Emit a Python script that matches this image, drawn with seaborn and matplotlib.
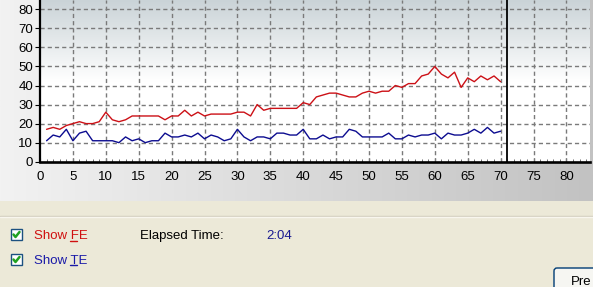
import numpy as np
import pandas as pd
import matplotlib
matplotlib.use("Agg")
import matplotlib.pyplot as plt
import seaborn as sns
from matplotlib.patches import Rectangle, FancyBboxPatch
from matplotlib.lines import Line2D

# ---- data ----
positions = list(range(1, 71))
fe_values = [17, 18, 17, 19, 20, 21, 20, 20, 21, 26,
             22, 21, 22, 24, 24, 24, 24, 24, 22, 24,
             24, 27, 24, 26, 24, 25, 25, 25, 25, 26,
             26, 24, 30, 27, 28, 28, 28, 28, 28, 31,
             30, 34, 35, 36, 36, 35, 34, 34, 36, 37,
             36, 37, 37, 40, 39, 41, 41, 45, 46, 50,
             46, 44, 47, 39, 44, 42, 45, 43, 45, 42]
te_values = [11, 14, 13, 17, 11, 15, 16, 11, 11, 11,
             11, 10, 13, 11, 12, 10, 11, 11, 15, 13,
             13, 14, 13, 15, 12, 14, 13, 11, 12, 17,
             13, 11, 13, 13, 12, 15, 15, 14, 14, 17,
             12, 12, 14, 12, 13, 13, 17, 16, 13, 13,
             13, 13, 15, 12, 12, 14, 13, 14, 14, 15,
             12, 15, 14, 14, 15, 17, 15, 18, 15, 16]
x_ticks = list(range(0, 81, 5))
y_ticks = list(range(0, 81, 10))
marker_pos = 71
elapsed = "2:04"

df = pd.DataFrame({
    "pos": positions * 2,
    "val": fe_values + te_values,
    "series": ["FE"] * len(fe_values) + ["TE"] * len(te_values),
})

sns.set_theme(style="white")
plt.rcParams["font.family"] = ["Liberation Sans", "DejaVu Sans"]

W, H = 593, 287
fig = plt.figure(figsize=(W / 100, H / 100), dpi=100)

# ---- background (window) ----
bg = fig.add_axes([0, 0, 1, 1])
bg.set_xlim(0, W)
bg.set_ylim(H, 0)
bg.axis("off")
bg.add_patch(Rectangle((0, 0), W, H, color="#ECE9D8", zorder=0))
grad = np.linspace(0, 1, 256)[None, :]
gcmap = matplotlib.colors.LinearSegmentedColormap.from_list("g", ["#F2F2F2", "#C2C2C2"])
bg.imshow(grad, extent=(0, W, 201, 0), cmap=gcmap, aspect="auto", zorder=1)
bg.add_line(Line2D([0, W], [216, 216], color="#D2CEBE", lw=1, zorder=2))
bg.add_line(Line2D([0, W], [217, 217], color="#F8F6EE", lw=1, zorder=2))

# checkboxes
def checkbox(y0):
    bg.add_patch(Rectangle((11, y0), 11, 11, facecolor="white", edgecolor="#1C5180", lw=1, zorder=3))
    bg.add_line(Line2D([13.5, 15.5, 19.5], [y0 + 5.5, y0 + 8, y0 + 3], color="#21A121", lw=1.8, zorder=4))

checkbox(229)
checkbox(254)

fs = 9.5
bg.text(34, 239, "Show FE", color="#D01010", fontsize=fs, va="baseline", ha="left", zorder=5)
bg.add_line(Line2D([70, 77], [240.5, 240.5], color="#D01010", lw=1, zorder=5))
bg.text(34, 263.5, "Show TE", color="#1A1AA8", fontsize=fs, va="baseline", ha="left", zorder=5)
bg.add_line(Line2D([70, 77], [265, 265], color="#1A1AA8", lw=1, zorder=5))
bg.text(140, 239, "Elapsed Time:", color="black", fontsize=fs, va="baseline", ha="left", zorder=5)
bg.text(266, 239, elapsed, color="#1A1A90", fontsize=fs, va="baseline", ha="left", zorder=5)

# button
bg.add_patch(FancyBboxPatch((554, 268), 60, 30, boxstyle="round,pad=0,rounding_size=3",
                            facecolor="#F6F6F2", edgecolor="#003C74", lw=1, zorder=3))
bg.text(571, 285, "Pre", color="black", fontsize=fs, va="baseline", ha="left", zorder=5)

# ---- chart ----
x0, x1 = 40, 590
y_bot = 161.7
ax = fig.add_axes([x0 / W, (H - y_bot) / H, (x1 - x0) / W, y_bot / H])
xmax = (x1 - x0) / 6.58
ymax = 80 + 9.3 / 1.905
ax.set_xlim(0, xmax)
ax.set_ylim(0, ymax)

vgrad = np.linspace(1, 0, 256)[:, None]
pcmap = matplotlib.colors.LinearSegmentedColormap.from_list("p", ["#FFFFFF", "#FFFFFF", "#CAD3D7"])
ax.imshow(vgrad, extent=(0, xmax, 0, ymax), cmap=pcmap, aspect="auto", zorder=0,
          vmin=0, vmax=1, origin="upper")
ax.set_facecolor("white")

for xv in x_ticks[1:]:
    ax.axvline(xv, color="#7A7A7A", lw=1, ls=(0, (3, 2.2)), zorder=1)
for yv in y_ticks[1:]:
    ax.axhline(yv, color="#7A7A7A", lw=1, ls=(0, (3, 2.2)), zorder=1)

sns.lineplot(data=df, x="pos", y="val", hue="series",
             palette={"FE": "#CC1016", "TE": "#0C0C90"},
             linewidth=1.0, legend=False, ax=ax, zorder=3)

ax.axvline(marker_pos, color="black", lw=1.3, zorder=4)

ax.set_xticks(x_ticks)
ax.set_yticks(y_ticks)
ax.set_xticks(range(0, int(xmax) + 1), minor=True)
ax.set_xlabel("")
ax.set_ylabel("")
ax.tick_params(axis="x", which="major", direction="in", length=3, width=0.8,
               color="#555555", pad=7, labelsize=9.5, labelcolor="black", bottom=True)
ax.tick_params(axis="x", which="minor", direction="in", length=2, width=0.6,
               color="#555555", bottom=True)
ax.tick_params(axis="y", which="major", direction="out", length=3.5, width=0.8,
               color="black", pad=1.5, labelsize=9.5, labelcolor="black", left=True)

for s in ("top", "right"):
    ax.spines[s].set_visible(False)
ax.spines["left"].set_color("black")
ax.spines["left"].set_linewidth(1.6)
ax.spines["bottom"].set_color("black")
ax.spines["bottom"].set_linewidth(1.9)
ax.grid(False)

fig.savefig("out.png", dpi=100)
